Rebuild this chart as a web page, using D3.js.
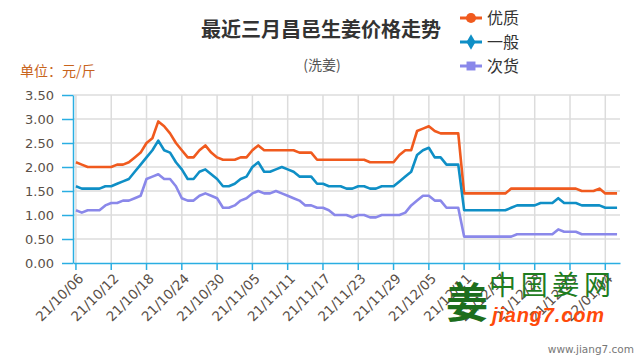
<!DOCTYPE html>
<html><head><meta charset="utf-8">
<script src="https://cdn.jsdelivr.net/npm/d3@7/dist/d3.min.js"></script>
<style>body{margin:0;background:#fff}svg{display:block}</style>
</head><body>
<svg id="c" width="640" height="360"></svg>
<script>
const categories = [
"21/10/06","21/10/07","21/10/08","21/10/09","21/10/10","21/10/11","21/10/12","21/10/13","21/10/14","21/10/15",
"21/10/16","21/10/17","21/10/18","21/10/19","21/10/20","21/10/21","21/10/22","21/10/23","21/10/24","21/10/25",
"21/10/26","21/10/27","21/10/28","21/10/29","21/10/30","21/10/31","21/11/01","21/11/02","21/11/03","21/11/04",
"21/11/05","21/11/06","21/11/07","21/11/08","21/11/09","21/11/10","21/11/11","21/11/12","21/11/13","21/11/14",
"21/11/15","21/11/16","21/11/17","21/11/18","21/11/19","21/11/20","21/11/21","21/11/22","21/11/23","21/11/24",
"21/11/25","21/11/26","21/11/27","21/11/28","21/11/29","21/11/30","21/12/01","21/12/02","21/12/03","21/12/04",
"21/12/05","21/12/06","21/12/07","21/12/08","21/12/09","21/12/10","21/12/11","21/12/12","21/12/13","21/12/14",
"21/12/15","21/12/16","21/12/17","21/12/18","21/12/19","21/12/20","21/12/21","21/12/22","21/12/23","21/12/24",
"21/12/25","21/12/26","21/12/27","21/12/28","21/12/29","21/12/30","21/12/31","22/01/01","22/01/02","22/01/03",
"22/01/04","22/01/05","22/01/06"];

const youzhi = [
2.10,2.05,2.00,2.00,2.00,2.00,2.00,2.05,2.05,2.10,
2.20,2.30,2.50,2.60,2.95,2.85,2.70,2.50,2.35,2.20,
2.20,2.35,2.45,2.30,2.20,2.15,2.15,2.15,2.20,2.20,
2.35,2.45,2.35,2.35,2.35,2.35,2.35,2.35,2.30,2.30,
2.30,2.15,2.15,2.15,2.15,2.15,2.15,2.15,2.15,2.15,
2.10,2.10,2.10,2.10,2.10,2.25,2.35,2.35,2.75,2.80,
2.85,2.75,2.70,2.70,2.70,2.70,1.45,1.45,1.45,1.45,
1.45,1.45,1.45,1.45,1.55,1.55,1.55,1.55,1.55,1.55,
1.55,1.55,1.55,1.55,1.55,1.55,1.50,1.50,1.50,1.55,
1.45,1.45,1.45];

const yiban = [
1.60,1.55,1.55,1.55,1.55,1.60,1.60,1.65,1.70,1.75,
1.90,2.05,2.20,2.35,2.55,2.35,2.30,2.10,1.95,1.75,
1.75,1.90,1.95,1.85,1.75,1.60,1.60,1.65,1.75,1.80,
2.00,2.10,1.90,1.90,1.95,2.00,1.95,1.90,1.80,1.80,
1.80,1.65,1.65,1.60,1.60,1.60,1.55,1.55,1.60,1.60,
1.55,1.55,1.60,1.60,1.60,1.70,1.80,1.90,2.25,2.35,
2.40,2.20,2.20,2.05,2.05,2.05,1.10,1.10,1.10,1.10,
1.10,1.10,1.10,1.10,1.15,1.20,1.20,1.20,1.20,1.25,
1.25,1.25,1.35,1.25,1.25,1.25,1.20,1.20,1.20,1.20,
1.15,1.15,1.15];

const cihuo = [
1.10,1.05,1.10,1.10,1.10,1.20,1.25,1.25,1.30,1.30,
1.35,1.40,1.75,1.80,1.85,1.75,1.75,1.60,1.35,1.30,
1.30,1.40,1.45,1.40,1.35,1.15,1.15,1.20,1.30,1.35,
1.45,1.50,1.45,1.45,1.50,1.45,1.40,1.35,1.30,1.20,
1.20,1.15,1.15,1.10,1.00,1.00,1.00,0.95,1.00,1.00,
0.95,0.95,1.00,1.00,1.00,1.00,1.05,1.20,1.30,1.40,
1.40,1.30,1.30,1.15,1.15,1.15,0.55,0.55,0.55,0.55,
0.55,0.55,0.55,0.55,0.55,0.60,0.60,0.60,0.60,0.60,
0.60,0.60,0.70,0.65,0.65,0.65,0.60,0.60,0.60,0.60,
0.60,0.60,0.60];

const yTicks = [0,0.5,1,1.5,2,2.5,3,3.5];
const seriesNames = ["优质","一般","次货"];
const seriesColors = ["#f05a1e","#0f8fc6","#8a88ea"];
const seriesSymbols = [d3.symbolCircle, d3.symbolDiamond, d3.symbolSquare];
const titleText = "最近三月昌邑生姜价格走势";
const subtitleText = "(洗姜)";
const unitText = "单位：元/斤";

const svg = d3.select("#c");
const L = 73, R = 620, T = 95, B = 263;
const axisColor = "#2aaee2";

const x = d3.scaleBand().domain(categories).range([L, R]).padding(0);
const bw = x.bandwidth();
const cx = c => x(c) + bw / 2;
const y = d3.scaleLinear().domain([0, 3.5]).range([B, T]);
const tickCats = categories.filter((d, i) => i % 6 === 0);

// grid
const g = svg.append("g");
g.selectAll("line.h").data(yTicks.filter(v => v > 0)).join("line")
  .attr("x1", L).attr("x2", R).attr("y1", d => y(d)).attr("y2", d => y(d))
  .attr("stroke", "#dcdcdc").attr("stroke-width", 1.5);
g.selectAll("line.v").data(tickCats).join("line")
  .attr("x1", d => cx(d)).attr("x2", d => cx(d)).attr("y1", T).attr("y2", B)
  .attr("stroke", "#dcdcdc").attr("stroke-width", 1.5);

// y axis
const ya = svg.append("g").attr("transform", `translate(${L},0)`)
  .call(d3.axisLeft(y).tickValues(yTicks).tickFormat(d3.format(".2f")).tickSize(11).tickSizeOuter(0).tickPadding(8));
ya.select(".domain").attr("stroke", axisColor).attr("stroke-width", 1.5);
ya.selectAll(".tick line").attr("stroke", axisColor).attr("stroke-width", 1.5);
ya.selectAll(".tick text").attr("fill", "#5a5048").style("font-family", "'DejaVu Sans', Verdana, sans-serif").style("font-size", "13px");

// x axis
const xa = svg.append("g").attr("transform", `translate(0,${B})`)
  .call(d3.axisBottom(x).tickValues(tickCats).tickSize(7).tickSizeOuter(0));
xa.select(".domain").attr("stroke", axisColor).attr("stroke-width", 1.5);
xa.selectAll(".tick line").attr("stroke", axisColor).attr("stroke-width", 1.5);
xa.selectAll(".tick text")
  .attr("x", 0).attr("y", 0).attr("dy", "0.35em")
  .attr("transform", "translate(5,13) rotate(-45)")
  .style("text-anchor", "end")
  .attr("fill", "#5a5048")
  .style("font-family", "'DejaVu Sans', Verdana, sans-serif").style("font-size", "13.5px");

// lines
const line = d3.line().x((d, i) => cx(categories[i])).y(d => y(d));
[youzhi, yiban, cihuo].forEach((s, k) => {
  svg.append("path").datum(s).attr("d", line)
    .attr("fill", "none").attr("stroke", seriesColors[k]).attr("stroke-width", 2.6)
    .attr("stroke-linejoin", "round");
});

// titles
const cjk = "'Noto Sans CJK SC', 'Noto Sans', sans-serif";
svg.append("text").attr("x", 321).attr("y", 37).attr("text-anchor", "middle")
  .style("font-family", cjk).style("font-weight", "bold").style("font-size", "20px").attr("fill", "#333")
  .text(titleText);
svg.append("text").attr("x", 322).attr("y", 70).attr("text-anchor", "middle")
  .style("font-family", cjk).style("font-size", "14px").attr("fill", "#555")
  .text(subtitleText);
svg.append("text").attr("x", 20).attr("y", 76)
  .style("font-family", cjk).style("font-size", "14px").attr("fill", "#c8641c")
  .text(unitText);

// legend
const lg = svg.append("g");
seriesNames.forEach((n, k) => {
  const yy = 18 + k * 24;
  lg.append("line").attr("x1", 460).attr("x2", 482).attr("y1", yy).attr("y2", yy)
    .attr("stroke", seriesColors[k]).attr("stroke-width", 3);
  lg.append("path").attr("d", d3.symbol().type(seriesSymbols[k]).size(k === 1 ? 70 : 80)())
    .attr("transform", `translate(471,${yy})`).attr("fill", seriesColors[k]);
  lg.append("text").attr("x", 487).attr("y", yy + 6)
    .style("font-family", cjk).style("font-size", "16px").attr("fill", "#333").text(n);
});

// watermark logo
const wm = svg.append("g");
wm.append("text").attr("x", 467).attr("y", 318).attr("text-anchor", "middle")
  .style("font-family", cjk).style("font-weight", "bold").style("font-size", "42px").attr("fill", "#1d6e1d")
  .text("姜");
wm.append("text").attr("x", 489).attr("y", 295)
  .style("font-family", cjk).style("font-size", "27px").attr("fill", "#1f7d1f").attr("textLength", 122)
  .text("中国姜网");
wm.append("text").attr("x", 492).attr("y", 322)
  .style("font-family", "'Liberation Sans', Arial, sans-serif").style("font-weight", "bold").style("font-style", "italic")
  .style("font-size", "20px").attr("fill", "#ff4a0a").attr("textLength", 112)
  .text("jiang7.com");
svg.append("text").attr("x", 634).attr("y", 353).attr("text-anchor", "end")
  .style("font-family", "'DejaVu Sans', sans-serif").style("font-size", "10.5px").attr("fill", "#777")
  .text("www.jiang7.com");
</script>
</body></html>
